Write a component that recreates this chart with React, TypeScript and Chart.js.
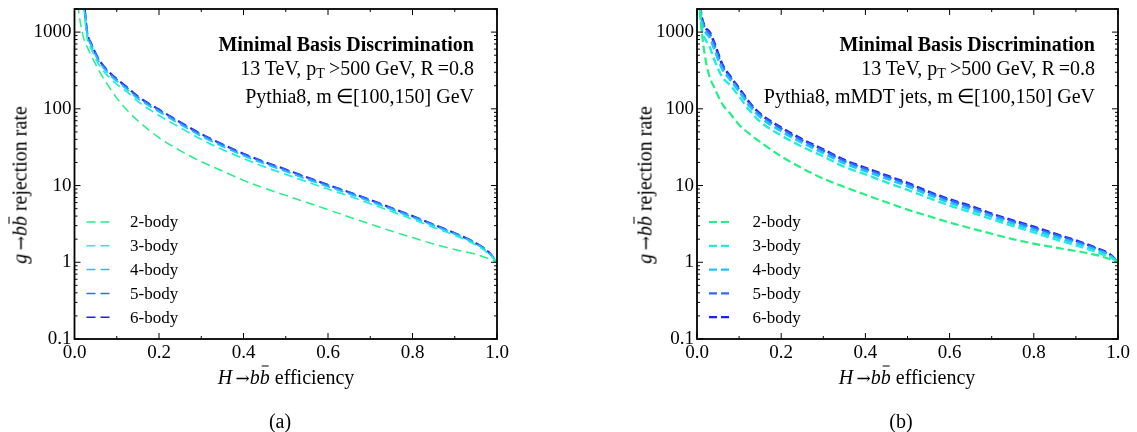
import React, { useEffect, useRef } from "react";
import { Chart, registerables } from "chart.js";

Chart.register(...registerables);

// ---------- data ----------
const efficiency = [0.005, 0.01, 0.02, 0.03, 0.04, 0.06, 0.08, 0.1, 0.125, 0.15, 0.2, 0.25, 0.3, 0.35, 0.4, 0.45, 0.5, 0.55, 0.6, 0.65, 0.7, 0.75, 0.8, 0.85, 0.9, 0.95, 0.98, 1.0];

const seriesLabels = ["2-body", "3-body", "4-body", "5-body", "6-body"];
const seriesColors = ["#22F283", "#1EEDE0", "#22C2FF", "#2F6BFF", "#1E1EFF"];

// panel (a): Pythia8
const leftBody2 = [3500, 1850, 900, 640, 490, 300, 200, 138, 95, 70, 42, 28.5, 20.5, 15.5, 11.7, 9.2, 7.45, 6.0, 4.85, 3.9, 3.15, 2.55, 2.1, 1.73, 1.47, 1.27, 1.12, 1.0];
const leftBody3 = [12000, 6000, 2600, 850, 600, 360, 265, 210, 165, 125, 82, 57, 40, 29.5, 22.5, 17.5, 14, 11.2, 9.0, 7.3, 5.8, 4.6, 3.65, 2.85, 2.25, 1.68, 1.3, 1.0];
const leftBody4 = [14000, 7000, 3200, 950, 660, 395, 290, 230, 178, 136, 92, 63, 44, 32.5, 24.5, 19.2, 15.3, 12.1, 9.7, 7.8, 6.2, 4.9, 3.85, 3.0, 2.33, 1.74, 1.34, 1.0];
const leftBody5 = [15000, 7500, 3400, 990, 690, 412, 303, 240, 186, 142, 96, 66, 46, 34, 25.6, 20, 16, 12.6, 10.1, 8.1, 6.45, 5.05, 3.97, 3.08, 2.38, 1.77, 1.36, 1.0];
const leftBody6 = [16000, 8000, 3500, 1000, 700, 420, 310, 245, 190, 145, 98, 67, 47, 34.5, 26, 20.3, 16.2, 12.8, 10.2, 8.2, 6.5, 5.1, 4.0, 3.1, 2.4, 1.78, 1.36, 1.0];

// panel (b): Pythia8, mMDT jets
const rightBody2 = [2800, 1200, 450, 260, 195, 115, 85, 62, 47, 37, 24, 16.8, 12.3, 9.6, 7.6, 6.05, 4.85, 4.0, 3.3, 2.78, 2.35, 2.0, 1.75, 1.56, 1.4, 1.24, 1.1, 1.0];
const rightBody3 = [2600, 1200, 800, 650, 450, 260, 200, 145, 95, 68, 45, 32, 24, 17.5, 14, 11, 8.8, 6.9, 5.5, 4.5, 3.65, 2.98, 2.45, 2.0, 1.66, 1.35, 1.17, 1.0];
const rightBody4 = [2900, 1500, 1000, 850, 620, 330, 235, 168, 108, 78, 51, 36, 26.5, 19.5, 15.5, 12.3, 9.8, 7.6, 6.0, 4.9, 3.95, 3.2, 2.65, 2.15, 1.78, 1.43, 1.22, 1.0];
const rightBody5 = [3000, 1650, 1100, 950, 700, 360, 250, 178, 115, 83, 55, 38.5, 28.5, 20.8, 16.4, 13, 10.4, 8.0, 6.4, 5.2, 4.15, 3.4, 2.8, 2.28, 1.87, 1.49, 1.25, 1.0];
const rightBody6 = [3200, 1700, 1150, 1000, 750, 380, 260, 185, 120, 86, 57, 40, 29.5, 21.5, 17, 13.5, 10.8, 8.3, 6.6, 5.4, 4.3, 3.5, 2.9, 2.35, 1.92, 1.52, 1.28, 1.0];

const xTickValues = [0, 0.2, 0.4, 0.6, 0.8, 1.0];
const xTickLabels = ["0.0", "0.2", "0.4", "0.6", "0.8", "1.0"];
const yTickValues = [0.1, 1, 10, 100, 1000];
const yTickLabels = ["0.1", "1", "10", "100", "1000"];

const SERIF = '"Liberation Serif", "Times New Roman", serif';

// ---------- plugins ----------
const framePlugin = {
  id: "frame",
  afterDatasetsDraw(chart: any) {
    const { ctx, chartArea } = chart;
    const xs = chart.scales.x;
    const ys = chart.scales.y;
    const { left, right, top, bottom } = chartArea;
    ctx.save();
    ctx.strokeStyle = "#000";
    ctx.lineWidth = 1;
    const major = 6;
    const minor = 3;
    ctx.beginPath();
    for (let i = 0; i <= 10; i++) {
      const px = xs.getPixelForValue(i / 10);
      const len = i % 2 === 0 ? major : minor;
      ctx.moveTo(px, bottom);
      ctx.lineTo(px, bottom - len);
      ctx.moveTo(px, top);
      ctx.lineTo(px, top + len);
    }
    for (let d = -1; d <= 3; d++) {
      for (let k = 1; k <= 9; k++) {
        const v = k * Math.pow(10, d);
        if (v > 2000) continue;
        const py = ys.getPixelForValue(v);
        const len = k === 1 ? major : minor;
        ctx.moveTo(left, py);
        ctx.lineTo(left + len, py);
        ctx.moveTo(right, py);
        ctx.lineTo(right - len, py);
      }
    }
    ctx.stroke();
    ctx.lineWidth = 1.8;
    ctx.strokeRect(left, top, right - left, bottom - top);
    ctx.restore();
  },
};

const legendPlugin = {
  id: "insideLegend",
  afterDraw(chart: any) {
    const { ctx, chartArea } = chart;
    const opts = chart.options.plugins.insideLegend || {};
    ctx.save();
    ctx.font = `17px ${SERIF}`;
    ctx.textBaseline = "middle";
    ctx.fillStyle = "#000";
    chart.data.datasets.forEach((ds: any, i: number) => {
      const y = chartArea.bottom - 117 + i * 23.8;
      ctx.strokeStyle = ds.borderColor;
      ctx.lineWidth = opts.lineWidth || 1.6;
      ctx.setLineDash(ds.borderDash || []);
      ctx.beginPath();
      ctx.moveTo(chartArea.left + 12, y);
      ctx.lineTo(chartArea.left + 35, y);
      ctx.stroke();
      ctx.setLineDash([]);
      ctx.fillText(ds.label, chartArea.left + 55.5, y + 1);
    });
    ctx.restore();
  },
};

type PanelProps = {
  left: number;
  width: number;
  yWidth: number;
  padRight: number;
  series: number[][];
  lineWidths: number[];
  dash: number[];
};

function Panel({ left, width, yWidth, padRight, series, lineWidths, dash }: PanelProps) {
  const ref = useRef<HTMLCanvasElement>(null);
  useEffect(() => {
    const chart = new Chart(ref.current as HTMLCanvasElement, {
      type: "line",
      data: {
        datasets: series.map((vals, i) => ({
          label: seriesLabels[i],
          data: efficiency.map((x, j) => ({ x, y: vals[j] })),
          borderColor: seriesColors[i],
          borderWidth: lineWidths[i],
          borderDash: dash,
          pointRadius: 0,
          fill: false,
          cubicInterpolationMode: "monotone",
        })),
      },
      options: {
        animation: false,
        responsive: false,
        maintainAspectRatio: false,
        layout: { padding: { left: 0, right: padRight, top: 9, bottom: 0 } },
        plugins: {
          legend: { display: false },
          tooltip: { enabled: false },
          insideLegend: { lineWidth: lineWidths[0] },
        } as any,
        scales: {
          x: {
            type: "linear",
            min: 0,
            max: 1,
            grid: { display: false, drawTicks: false },
            border: { display: false },
            afterBuildTicks: (s: any) => {
              s.ticks = xTickValues.map((v) => ({ value: v }));
            },
            ticks: {
              autoSkip: false,
              maxRotation: 0,
              padding: 3,
              color: "#000",
              font: { family: SERIF, size: 19 },
              callback: (_v: any, i: number) => xTickLabels[i],
            },
            afterFit: (s: any) => {
              s.height = 93;
              s.paddingLeft = 0;
              s.paddingRight = 0;
            },
          },
          y: {
            type: "logarithmic",
            min: 0.1,
            max: 2000,
            grid: { display: false, drawTicks: false },
            border: { display: false },
            afterBuildTicks: (s: any) => {
              s.ticks = yTickValues.map((v) => ({ value: v }));
            },
            ticks: {
              autoSkip: false,
              padding: 3,
              color: "#000",
              font: { family: SERIF, size: 19 },
              callback: (_v: any, i: number) => yTickLabels[i],
            },
            afterFit: (s: any) => {
              s.width = yWidth;
              s.paddingTop = 0;
              s.paddingBottom = 0;
            },
          },
        },
      } as any,
      plugins: [framePlugin, legendPlugin],
    });
    return () => chart.destroy();
  }, []);
  return (
    <canvas
      ref={ref}
      width={width}
      height={432}
      style={{ position: "absolute", left, top: 0, width, height: 432 }}
    />
  );
}

function Arrow() {
  return <span style={{ fontFamily: '"DejaVu Serif", serif', fontSize: "17px" }}>{"\u2009\u2192"}</span>;
}

function Bbar() {
  return (
    <>
      <i>b</i>
      <span style={{ position: "relative", display: "inline-block" }}>
        <i>b</i>
        <span
          style={{
            position: "absolute",
            left: "22%",
            width: "70%",
            top: "1px",
            height: "1.4px",
            background: "#000",
          }}
        />
      </span>
    </>
  );
}

function Annotation({ right, third }: { right: number; third: React.ReactNode }) {
  return (
    <div
      style={{
        position: "absolute",
        left: 0,
        width: right,
        top: 33,
        textAlign: "right",
        whiteSpace: "nowrap",
        font: `20px ${SERIF}`,
        lineHeight: "23.5px",
        color: "#000",
      }}
    >
      <div style={{ fontWeight: "bold" }}>Minimal Basis Discrimination</div>
      <div>
        13 TeV, p<sub style={{ fontSize: "14px", verticalAlign: "-3px" }}>T</sub>{"\u2009>500 GeV, R\u2009=0.8"}
      </div>
      <div>{third}</div>
    </div>
  );
}

function YTitle({ cx }: { cx: number }) {
  return (
    <div
      style={{
        position: "absolute",
        left: cx,
        top: 185,
        transform: "translate(-50%, -50%) rotate(-90deg)",
        whiteSpace: "nowrap",
        font: `20px ${SERIF}`,
        lineHeight: "24px",
        color: "#000",
      }}
    >
      <i>g</i>
      <Arrow />
      <Bbar /> rejection rate
    </div>
  );
}

function XTitle({ cx }: { cx: number }) {
  return (
    <div
      style={{
        position: "absolute",
        left: cx,
        top: 377,
        transform: "translate(-50%, -50%)",
        whiteSpace: "nowrap",
        font: `20px ${SERIF}`,
        lineHeight: "24px",
        color: "#000",
      }}
    >
      <i>H</i>
      <Arrow />
      <Bbar /> efficiency
    </div>
  );
}

function Caption({ cx, text }: { cx: number; text: string }) {
  return (
    <div
      style={{
        position: "absolute",
        left: cx,
        top: 421,
        transform: "translate(-50%, -50%)",
        whiteSpace: "nowrap",
        font: `20px ${SERIF}`,
        color: "#000",
      }}
    >
      {text}
    </div>
  );
}

export default function App() {
  return (
    <div
      style={{
        position: "absolute",
        left: 0,
        top: 0,
        width: 1137,
        height: 432,
        background: "#fff",
        overflow: "hidden",
      }}
    >
      <Panel
        left={0}
        width={540}
        yWidth={74.5}
        padRight={43}
        series={[leftBody2, leftBody3, leftBody4, leftBody5, leftBody6]}
        lineWidths={[1.5, 1.7, 1.9, 2.1, 2.1]}
        dash={[9, 5]}
      />
      <Panel
        left={600}
        width={537}
        yWidth={97}
        padRight={19}
        series={[rightBody2, rightBody3, rightBody4, rightBody5, rightBody6]}
        lineWidths={[2.2, 2.4, 2.6, 2.6, 2.6]}
        dash={[8, 4]}
      />
      <Annotation right={474} third={<>Pythia8, m{"\u2009\u2208[100,150] GeV"}</>} />
      <Annotation right={1095} third={<>Pythia8, mMDT jets, m{"\u2009\u2208[100,150] GeV"}</>} />
      <YTitle cx={20} />
      <YTitle cx={645} />
      <XTitle cx={286} />
      <XTitle cx={907} />
      <Caption cx={280} text="(a)" />
      <Caption cx={901} text="(b)" />
    </div>
  );
}
